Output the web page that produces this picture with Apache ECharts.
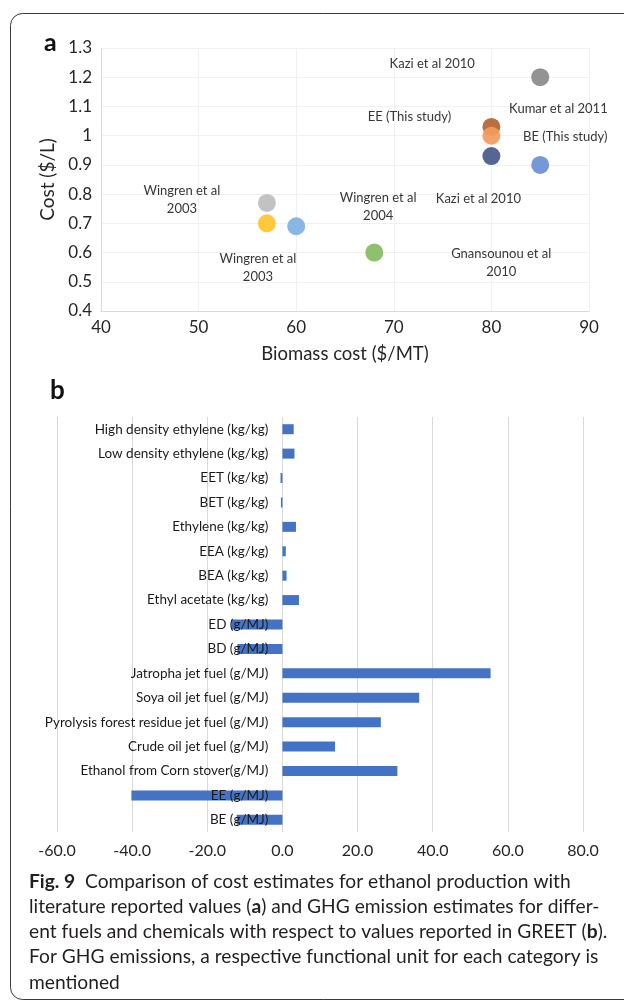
<!DOCTYPE html>
<html><head><meta charset="utf-8">
<script src="https://cdn.jsdelivr.net/npm/echarts@6/dist/echarts.min.js"></script>
<style>html,body{margin:0;padding:0;background:#fff;}#c{width:624px;height:1006px;}</style>
</head><body><div id="c"></div>
<script>
// ---- Panel a: cost comparison ----
const costLabels = ['Kazi et al 2010', 'Kumar et al 2011', 'EE (This study)', 'BE (This study)', 'Kazi et al 2010',
  'Wingren et al\n2003', 'Wingren et al\n2004', 'Wingren et al\n2003', 'Gnansounou et al\n2010'];
const biomassCost = [85, 80, 80, 85, 80, 57, 60, 57, 68];
const ethanolCost = [1.2, 1.03, 1.0, 0.9, 0.93, 0.77, 0.69, 0.70, 0.60];

// ---- Panel b: GHG emissions ----
const ghgCategories = ['High density ethylene (kg/kg)', 'Low density ethylene (kg/kg)', 'EET (kg/kg)', 'BET (kg/kg)',
  'Ethylene (kg/kg)', 'EEA (kg/kg)', 'BEA (kg/kg)', 'Ethyl acetate (kg/kg)', 'ED (g/MJ)', 'BD (g/MJ)',
  'Jatropha jet fuel (g/MJ)', 'Soya oil jet fuel (g/MJ)', 'Pyrolysis forest residue jet fuel (g/MJ)',
  'Crude oil jet fuel (g/MJ)', 'Ethanol from Corn stover(g/MJ)', 'EE (g/MJ)', 'BE (g/MJ)'];
const ghgValues = [3.0, 3.2, -0.5, -0.4, 3.6, 0.9, 1.1, 4.4, -13.6, -12.0, 55.4, 36.4, 26.2, 14.0, 30.6, -40.2, -12.2];
const ghgMin = -60, ghgMax = 80, ghgStep = 20;

// ---- styles (not data) ----
const pointColors = ['#8a8a8a', '#b5622f', '#f29c5e', '#6a8fd8', '#47598a', '#bdbdbd', '#7fb1e2', '#fec52a', '#86bb62'];
const labelOffsets = [[-108, -13], [67, -18], [-82, -19], [25, -28], [-13, 43], [-85, -3], [82, -19], [-9, 44], [127, 10]];
const F = 'Lato, "Open Sans", sans-serif';
const barGrid = { left: 57, top: 417, width: 526, height: 415 };
// shift category axis so it sits on the zero of the value axis
const zeroShift = (0 - ghgMin) / (ghgMax - ghgMin) * barGrid.width;

const scatterData = biomassCost.map((x, i) => ({
  value: [x, ethanolCost[i]],
  itemStyle: { color: pointColors[i], opacity: 0.92 },
  label: { show: true, formatter: costLabels[i], offset: labelOffsets[i], position: 'inside',
           color: '#262626', fontSize: 13, fontFamily: F, lineHeight: 18, align: 'center' }
}));

const chart = echarts.init(document.getElementById('c'), null, { renderer: 'canvas' });
chart.setOption({
  animation: false,
  backgroundColor: '#fff',
  grid: [
    { left: 101, top: 48, width: 488, height: 263, outerBoundsMode: 'none', containLabel: false },
    Object.assign({ outerBoundsMode: 'none', containLabel: false }, barGrid)
  ],
  xAxis: [
    { gridIndex: 0, type: 'value', min: 40, max: 90, interval: 10,
      axisLine: { show: true, lineStyle: { color: '#d9d9d9' } }, axisTick: { show: false },
      axisLabel: { color: '#262626', fontSize: 17, fontFamily: F, margin: 8 },
      splitLine: { show: true, lineStyle: { color: '#f0f0f0' } },
      name: 'Biomass cost ($/MT)', nameLocation: 'middle', nameGap: 34,
      nameTextStyle: { color: '#262626', fontSize: 18.5, fontFamily: F } },
    { gridIndex: 1, type: 'value', min: ghgMin, max: ghgMax, interval: ghgStep,
      axisLine: { show: false }, axisTick: { show: false },
      axisLabel: { color: '#262626', fontSize: 16, fontFamily: F, margin: 11, formatter: v => v.toFixed(1) },
      splitLine: { show: true, lineStyle: { color: '#d9d9d9', width: 1 } } }
  ],
  yAxis: [
    { gridIndex: 0, type: 'value', min: 0.4, max: 1.3, interval: 0.1,
      axisLine: { show: true, lineStyle: { color: '#d9d9d9' } }, axisTick: { show: false },
      axisLabel: { color: '#262626', fontSize: 17, fontFamily: F, margin: 9,
                   formatter: v => String(Math.round(v * 10) / 10) },
      splitLine: { show: true, lineStyle: { color: '#f0f0f0' } },
      name: 'Cost ($/L)', nameLocation: 'middle', nameGap: 42,
      nameTextStyle: { color: '#262626', fontSize: 19, fontFamily: F } },
    { gridIndex: 1, type: 'category', inverse: true, data: ghgCategories, z: 10,
      position: 'left', offset: -zeroShift,
      axisLine: { show: false, onZero: false }, axisTick: { show: false },
      axisLabel: { color: '#1a1a1a', fontSize: 13.5, fontFamily: F, margin: 14 },
      splitLine: { show: false } }
  ],
  series: [
    { type: 'scatter', xAxisIndex: 0, yAxisIndex: 0, symbolSize: 18, data: scatterData },
    { type: 'bar', xAxisIndex: 1, yAxisIndex: 1, data: ghgValues, barWidth: 10,
      itemStyle: { color: '#4472c4' } }
  ],
  graphic: [
    { type: 'rect', shape: { x: 10.5, y: 13.5, width: 700, height: 986, r: 12 },
      style: { fill: 'none', stroke: '#3a3a3a', lineWidth: 1 }, z: 0, silent: true },
    { type: 'text', left: 44, top: 30, style: { text: 'a', font: 'bold 25px ' + F, fill: '#111' } },
    { type: 'text', left: 50, top: 378, style: { text: 'b', font: 'bold 26px ' + F, fill: '#111' } },
    { type: 'text', left: 29, top: 869, style: {
        text: '{b|Fig. 9}  Comparison of cost estimates for ethanol production with\n' +
              'literature reported values ({b|a}) and GHG emission estimates for differ-\n' +
              'ent fuels and chemicals with respect to values reported in GREET ({b|b}).\n' +
              'For GHG emissions, a respective functional unit for each category is\n' +
              'mentioned',
        font: '19.2px ' + F, fill: '#231f20', lineHeight: 25.2,
        rich: { b: { fontWeight: 'bold', fontSize: 19.2, fontFamily: F, fill: '#231f20', lineHeight: 25.2 } } } }
  ]
});
</script></body></html>
